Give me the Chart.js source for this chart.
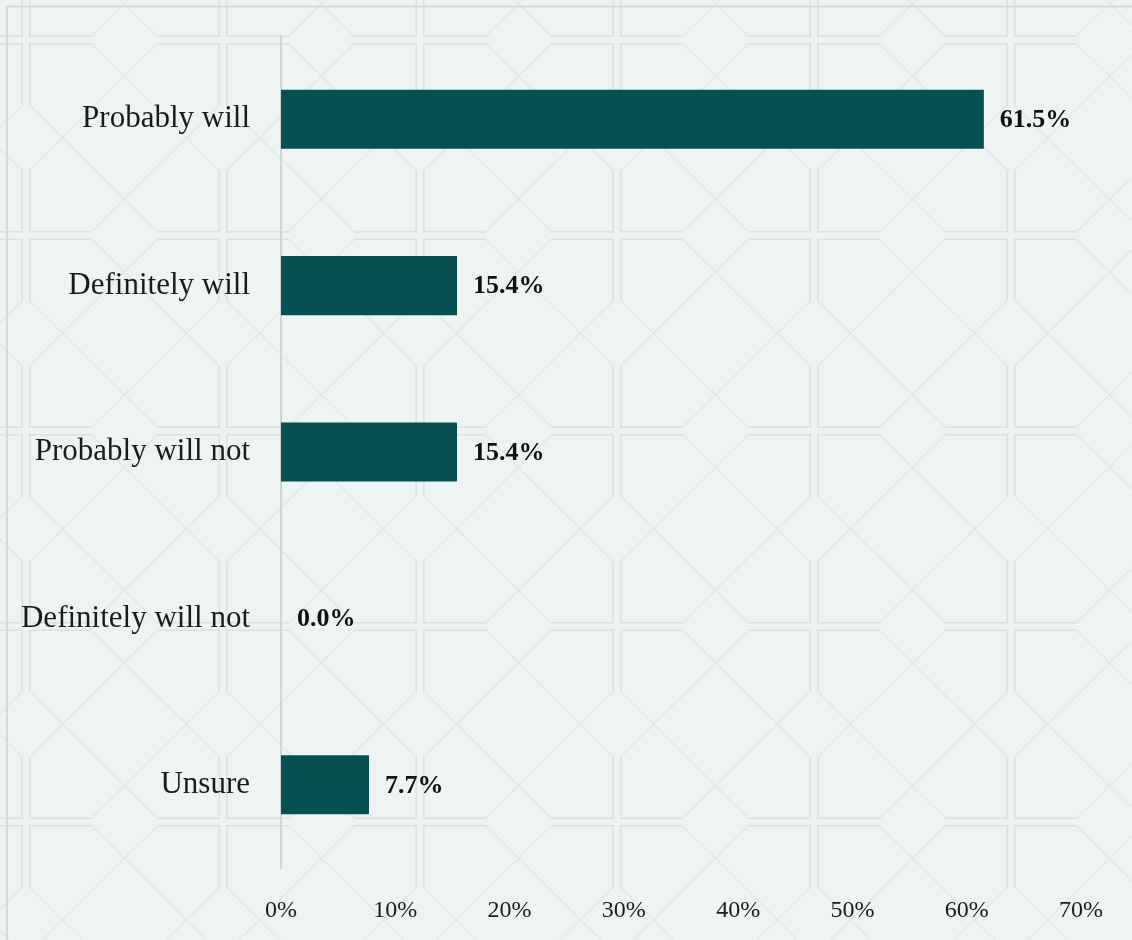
<!DOCTYPE html>
<html>
<head>
<meta charset="utf-8">
<title>Likelihood</title>
<script src="https://cdn.jsdelivr.net/npm/chart.js@4.4.1/dist/chart.umd.min.js"></script>
<style>
  html, body { margin: 0; padding: 0; background: #eef4f2; }
  #wrap { position: relative; width: 1132px; height: 940px; }
</style>
</head>
<body>
<div id="wrap"><canvas id="likelyChart"></canvas></div>
<script>
const categories = ["Probably will", "Definitely will", "Probably will not", "Definitely will not", "Unsure"];
const shares = [61.5, 15.4, 15.4, 0.0, 7.7];
const xTicks = [0, 10, 20, 30, 40, 50, 60, 70];

const BG = "#eef4f2";
const TILE_EDGE = "#dde0df";
const TILE_DIAG = "#e3e7e6";
const BAR = "#055052";
const SERIF = '"Liberation Serif", "Times New Roman", serif';

// tiled octagon lattice behind the plot
const backdrop = {
    id: "backdrop",
    beforeDraw(chart) {
        const { ctx, width, height } = chart;
        ctx.save();
        ctx.fillStyle = BG;
        ctx.fillRect(0, 0, width, height);

        const w = 197, h = 195.5, d = 3.8, a = w / 3, b = h / 3;
        const line = (pts) => {
            ctx.moveTo(pts[0][0], pts[0][1]);
            for (let k = 1; k < pts.length; k++) ctx.lineTo(pts[k][0], pts[k][1]);
        };
        const eachTile = (fn) => {
            for (let x0 = 26 - w; x0 < width; x0 += w) {
                for (let y0 = 40 - h; y0 < height; y0 += h) fn(x0, y0);
            }
        };

        // crossing diagonals
        ctx.strokeStyle = TILE_DIAG;
        ctx.lineWidth = 1.3;
        ctx.beginPath();
        eachTile((x0, y0) => {
            line([[x0 + a, y0 + d], [x0 + w - d, y0 + h - b]]);
            line([[x0 + w - a, y0 + d], [x0 + d, y0 + h - b]]);
            line([[x0 + d, y0 + b], [x0 + w - a, y0 + h - d]]);
            line([[x0 + w - d, y0 + b], [x0 + a, y0 + h - d]]);
        });
        ctx.stroke();

        // corner brackets along the double grid lines
        ctx.strokeStyle = TILE_EDGE;
        ctx.lineWidth = 1.5;
        ctx.beginPath();
        eachTile((x0, y0) => {
            line([[x0 + d, y0 + b], [x0 + d, y0 + d], [x0 + a, y0 + d]]);
            line([[x0 + w - a, y0 + d], [x0 + w - d, y0 + d], [x0 + w - d, y0 + b]]);
            line([[x0 + w - d, y0 + h - b], [x0 + w - d, y0 + h - d], [x0 + w - a, y0 + h - d]]);
            line([[x0 + a, y0 + h - d], [x0 + d, y0 + h - d], [x0 + d, y0 + h - b]]);
        });
        ctx.stroke();

        // outer frame
        ctx.strokeStyle = "#d7d9d8";
        ctx.lineWidth = 2;
        ctx.strokeRect(7, 6.5, width + 20, height + 20);
        ctx.restore();
    }
};

// percentage written just past the end of each bar
const valueLabels = {
    id: "valueLabels",
    afterDatasetsDraw(chart) {
        const { ctx } = chart;
        const meta = chart.getDatasetMeta(0);
        ctx.save();
        ctx.font = "bold 26px " + SERIF;
        ctx.fillStyle = "#111111";
        ctx.textBaseline = "middle";
        meta.data.forEach((bar, i) => {
            ctx.fillText(shares[i].toFixed(1) + "%", bar.x + 16, bar.y + 1);
        });
        ctx.restore();
    }
};

new Chart(document.getElementById("likelyChart"), {
    type: "bar",
    data: {
        labels: categories,
        datasets: [{
            data: shares,
            backgroundColor: BAR,
            barPercentage: 0.355,
            categoryPercentage: 1
        }]
    },
    options: {
        indexAxis: "y",
        responsive: true,
        maintainAspectRatio: false,
        animation: false,
        layout: { padding: { top: 36, right: 51, left: 0, bottom: 0 } },
        plugins: {
            legend: { display: false },
            tooltip: { enabled: false }
        },
        scales: {
            x: {
                min: 0,
                max: 70,
                afterBuildTicks(scale) { scale.ticks = xTicks.map(v => ({ value: v })); },
                afterFit(scale) { scale.height = 72; },
                grid: { display: false, drawTicks: false },
                border: { display: false },
                ticks: {
                    callback: v => v + "%",
                    color: "#1b1b1b",
                    font: { family: SERIF, size: 24 },
                    padding: 28
                }
            },
            y: {
                afterFit(scale) { scale.width = 281; },
                // hidden tick marks still reserve the gap between labels and axis
                grid: { display: false, drawTicks: true, tickLength: 26 },
                border: { display: true, color: "#d3d5d4", width: 2 },
                ticks: {
                    color: "#1b1b1b",
                    font: { family: SERIF, size: 31 },
                    padding: 5
                }
            }
        }
    },
    plugins: [backdrop, valueLabels]
});
</script>
</body>
</html>
